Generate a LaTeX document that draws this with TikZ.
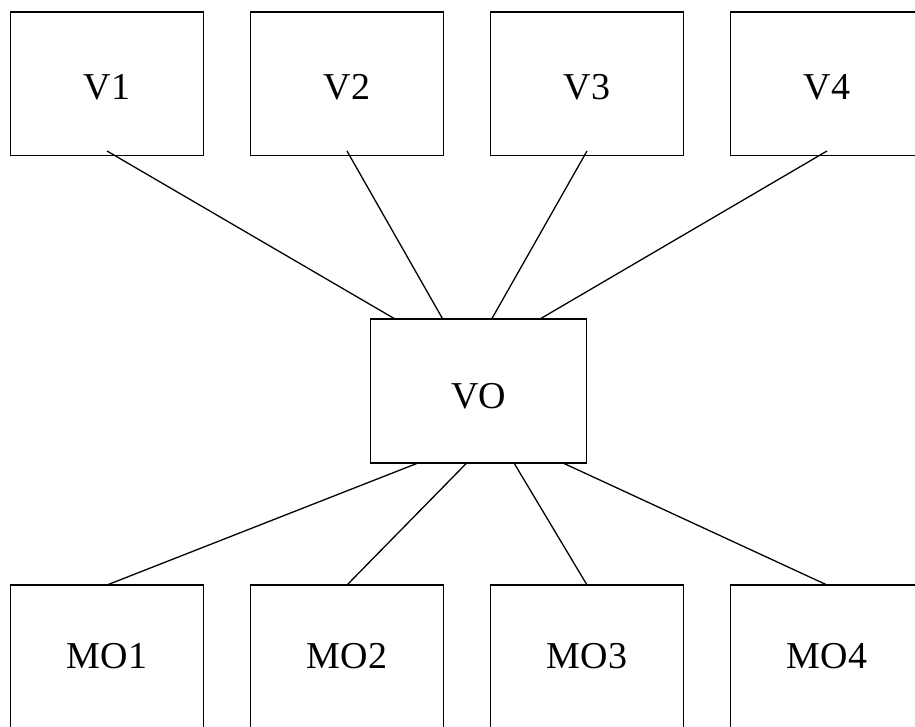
\documentclass[tikz,border=0pt]{standalone}
\usepackage{fontspec}
\setmainfont{Liberation Serif}
\begin{document}
\begin{tikzpicture}[
  x=1pt, y=-1pt,
  boxline/.style={line width=1.4pt},
  topbox/.style={draw, boxline, anchor=north west, inner sep=0pt, outer sep=0pt,
    minimum width=192.6pt, text height=88pt, text depth=55.5pt,
    font=\fontsize{38}{40}\selectfont},
  botbox/.style={draw, boxline, anchor=north west, inner sep=0pt, outer sep=0pt,
    minimum width=192.6pt, text height=83.3pt, text depth=90pt,
    font=\fontsize{38}{40}\selectfont},
  midbox/.style={draw, boxline, anchor=north west, inner sep=0pt, outer sep=0pt,
    minimum width=216pt, text height=89.3pt, text depth=54.7pt,
    font=\fontsize{38}{40}\selectfont},
  link/.style={draw, line width=1.3pt}
]
\path[use as bounding box, fill=white] (0,0) rectangle (915,727);

\node[topbox] (V1) at (10.7,12) {V1};
\node[topbox] (V2) at (250.7,12) {V2};
\node[topbox] (V3) at (490.7,12) {V3};
\node[topbox] (V4) at (730.7,12) {V4};

\node[midbox] (VO) at (370.7,319) {VO};

\node[botbox] (MO1) at (10.7,585) {MO1};
\node[botbox] (MO2) at (250.7,585) {MO2};
\node[botbox] (MO3) at (490.7,585) {MO3};
\node[botbox] (MO4) at (730.7,585) {MO4};

\path[link] ([yshift=4.5pt]V1.south) -- ([xshift=24.3pt]VO.north west);
\path[link] ([yshift=4.5pt]V2.south) -- ([xshift=72pt]VO.north west);
\path[link] ([yshift=4.5pt]V3.south) -- ([xshift=121pt]VO.north west);
\path[link] ([yshift=4.5pt]V4.south) -- ([xshift=169.3pt]VO.north west);

\path[link] ([xshift=47.3pt]VO.south west) -- (MO1.north);
\path[link] ([xshift=96pt]VO.south west) -- (MO2.north);
\path[link] ([xshift=143.3pt]VO.south west) -- (MO3.north);
\path[link] ([xshift=192.3pt]VO.south west) -- (MO4.north);
\end{tikzpicture}
\end{document}
